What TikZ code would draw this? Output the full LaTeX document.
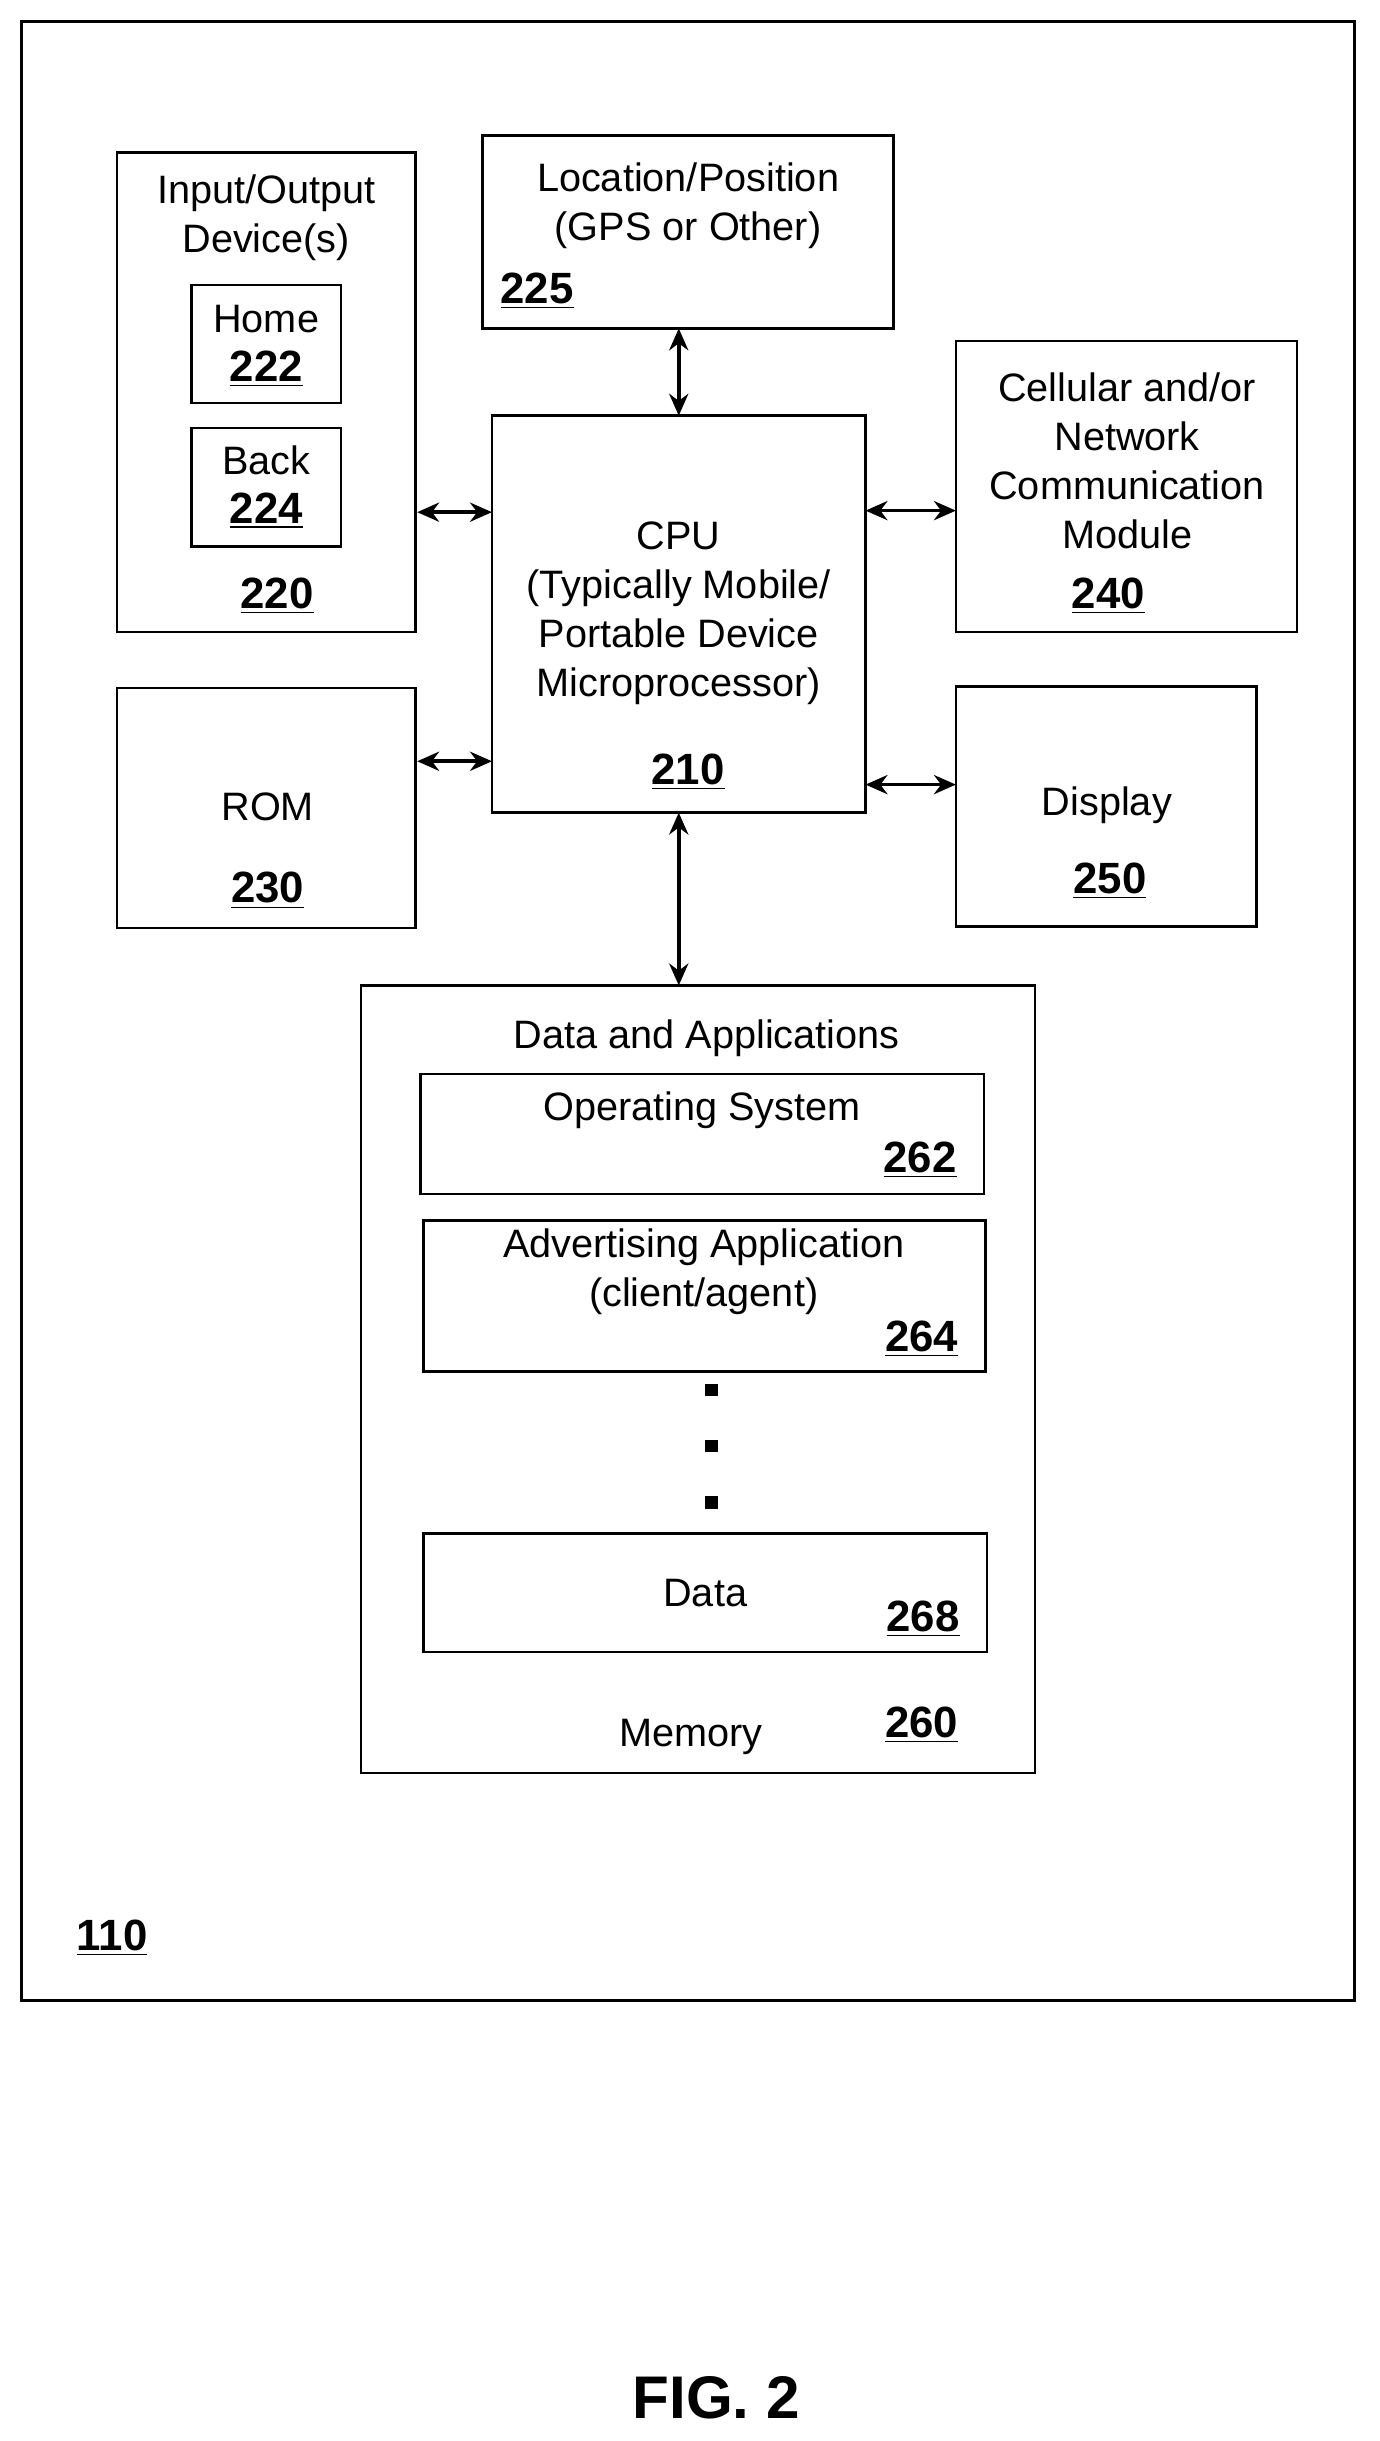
\documentclass[tikz,border=0pt]{standalone}
\usepackage{fontspec}
\setmainfont{Liberation Sans}
\usetikzlibrary{arrows.meta}
\tikzset{
  box/.style={draw, line width=0.9pt, inner sep=0pt},
  txt/.style={align=center, font=\fontsize{14.5}{18}\selectfont},
  num/.style={font=\fontsize{16}{18}\selectfont\bfseries},
  link/.style={{Stealth[length=8pt,width=7pt]}-{Stealth[length=8pt,width=7pt]}, line width=1.3pt}
}
\newcommand{\refnum}[1]{\underline{#1}}
\begin{document}
\begin{tikzpicture}[x=0.02cm,y=-0.02cm]
  \useasboundingbox (0,0) rectangle (886,1568);
  % frame
  \draw[line width=1pt] (14,14) rectangle (870,1285);
  \node[num] (n110) at (72,1245) {\refnum{110}};
  % input/output
  \draw[box] (75,98) rectangle (267,406);
  \coordinate (io) at (267,329);
  \node[txt] at (171,140) {Input/Output\\Device(s)};
  \draw[box] (123,183) rectangle (219,259);
  \node[txt] at (171,205) {Home};
  \node[num] at (171,237) {\refnum{222}};
  \draw[box] (123,275) rectangle (219,351);
  \node[txt] at (171,296) {Back};
  \node[num] at (171,328) {\refnum{224}};
  \node[num] at (178,383) {\refnum{220}};
  % location
  \draw[box] (310,87) rectangle (574,211);
  \node[txt] at (442,132) {Location/Position\\(GPS or Other)};
  \node[num] at (345,187) {\refnum{225}};
  % cpu
  \draw[box] (316,267) rectangle (556,522);
  \node[txt] at (436,394) {CPU\\(Typically Mobile/\\Portable Device\\Microprocessor)};
  \node[num] at (442,496) {\refnum{210}};
  % cellular
  \draw[box] (614,219) rectangle (833,406);
  \node[txt] at (724,296) {Cellular and/or\\Network\\Communication\\Module};
  \node[num] at (712,383) {\refnum{240}};
  % rom
  \draw[box] (75,442) rectangle (267,596);
  \node[txt] at (172,518) {ROM};
  \node[num] at (172,572) {\refnum{230}};
  % display
  \draw[box] (614,441) rectangle (807,595);
  \node[txt] at (711,517) {Display};
  \node[num] at (713,566) {\refnum{250}};
  % memory
  \draw[box] (232,633) rectangle (665,1139);
  \node[txt] at (454,667) {Data and Applications};
  \draw[box] (270,690) rectangle (632,767);
  \node[txt] at (451,713) {Operating System};
  \node[num] at (591,745) {\refnum{262}};
  \draw[box] (272,784) rectangle (633,881);
  \node[txt] at (452,817) {Advertising Application\\(client/agent)};
  \node[num] at (592,860) {\refnum{264}};
  \foreach \y in {893,929,965}
    \fill (453,\y-4) rectangle (461,\y+4);
  \draw[box] (272,985) rectangle (634,1061);
  \node[txt] at (453,1023) {Data};
  \node[num] at (593,1040) {\refnum{268}};
  \node[txt] at (444,1116) {Memory};
  \node[num] at (592,1108) {\refnum{260}};
  % connectors
  \draw[link] (268,329) -- (316,329);
  \draw[link] (268,489) -- (316,489);
  \draw[link] (556,328) -- (614,328);
  \draw[link] (556,504) -- (614,504);
  \draw[link] (436,211) -- (436,267);
  \draw[link] (436,522) -- (436,633);
  % caption
  \node[font=\fontsize{22}{24}\selectfont\bfseries] at (460,1540) {FIG. 2};
\end{tikzpicture}
\end{document}
